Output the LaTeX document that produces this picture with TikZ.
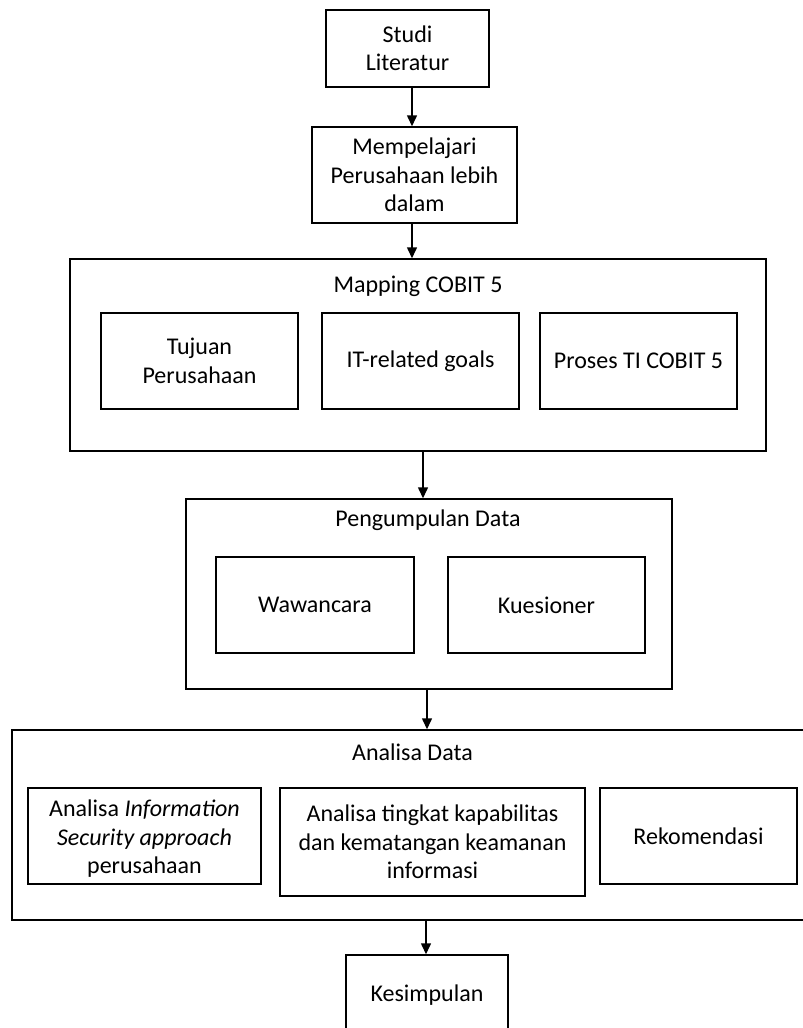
\documentclass[tikz,border=0pt]{standalone}
\usepackage{fontspec}
\setmainfont{Carlito}
\usetikzlibrary{arrows.meta}
\newcommand{\fsz}{\fontsize{24pt}{28.5pt}\selectfont}
\tikzset{
  box/.style={draw=black, line width=1.5pt, inner sep=0pt, align=center, font=\fsz},
  ttl/.style={inner sep=0pt, align=center, font=\fsz},
  arr/.style={line width=1.5pt, -{Triangle[length=11pt,width=10pt]}}
}
\begin{document}
\begin{tikzpicture}[x=1pt,y=-1pt]
\useasboundingbox (0,0) rectangle (803,1028);
\clip (0,0) rectangle (803,1028);
\fill[white] (0,0) rectangle (803,1028);

% top chain
\node[box, minimum width=163pt, minimum height=77pt] (studi) at (407.5,48.5) {Studi\\Literatur};
\node[box, minimum width=205pt, minimum height=96pt] (mem) at (414.5,175) {Mempelajari\\Perusahaan lebih\\dalam};

% Mapping COBIT 5
\node[box, minimum width=696pt, minimum height=192pt] (map) at (418,355) {};
\node[ttl] (maptitle) at (418,286) {Mapping COBIT 5};
\node[box, minimum width=197pt, minimum height=96pt] (tujuan) at (199.5,361) {Tujuan\\Perusahaan};
\node[box, minimum width=197pt, minimum height=96pt] (itgoals) at (420.5,361) {IT-related goals};
\node[box, minimum width=197pt, minimum height=96pt] (proses) at (638.5,361) {Proses TI COBIT 5};

% Pengumpulan Data
\node[box, minimum width=486pt, minimum height=190pt] (peng) at (429,594) {};
\node[ttl] (pengtitle) at (428,520) {Pengumpulan Data};
\node[box, minimum width=198pt, minimum height=96pt] (waw) at (315,605) {Wawancara};
\node[box, minimum width=197pt, minimum height=96pt] (kues) at (546.5,605) {Kuesioner};

% Analisa Data (extends past the right edge)
\node[box, minimum width=810pt, minimum height=190pt] (ana) at (417,825) {};
\node[ttl] (anatitle) at (412.5,752) {Analisa Data};
\node[box, minimum width=233pt, minimum height=96pt] (ana1) at (144.5,836) {};
\node[ttl] (ana1txt) at (144.5,839) {Analisa \textit{Information}\\\textit{Security approach}\\perusahaan};
\node[box, minimum width=305pt, minimum height=108pt] (ana2) at (432.5,842) {Analisa tingkat kapabilitas\\dan kematangan keamanan\\informasi};
\node[box, minimum width=197pt, minimum height=96pt] (rek) at (698.5,836) {Rekomendasi};

% Kesimpulan (extends past the bottom edge)
\node[box, minimum width=162pt, minimum height=80pt] (kes) at (427,995) {Kesimpulan};

% arrow x positions
\coordinate (c1) at (412,0);
\coordinate (c2) at (412,0);
\coordinate (c3) at (423,0);
\coordinate (c4) at (427,0);
\coordinate (c5) at (426,0);

\draw[arr] (studi.south -| c1) -- (mem.north -| c1);
\draw[arr] (mem.south -| c2) -- (map.north -| c2);
\draw[arr] (map.south -| c3) -- (peng.north -| c3);
\draw[arr] (peng.south -| c4) -- (ana.north -| c4);
\draw[arr] (ana.south -| c5) -- (kes.north -| c5);
\end{tikzpicture}
\end{document}
